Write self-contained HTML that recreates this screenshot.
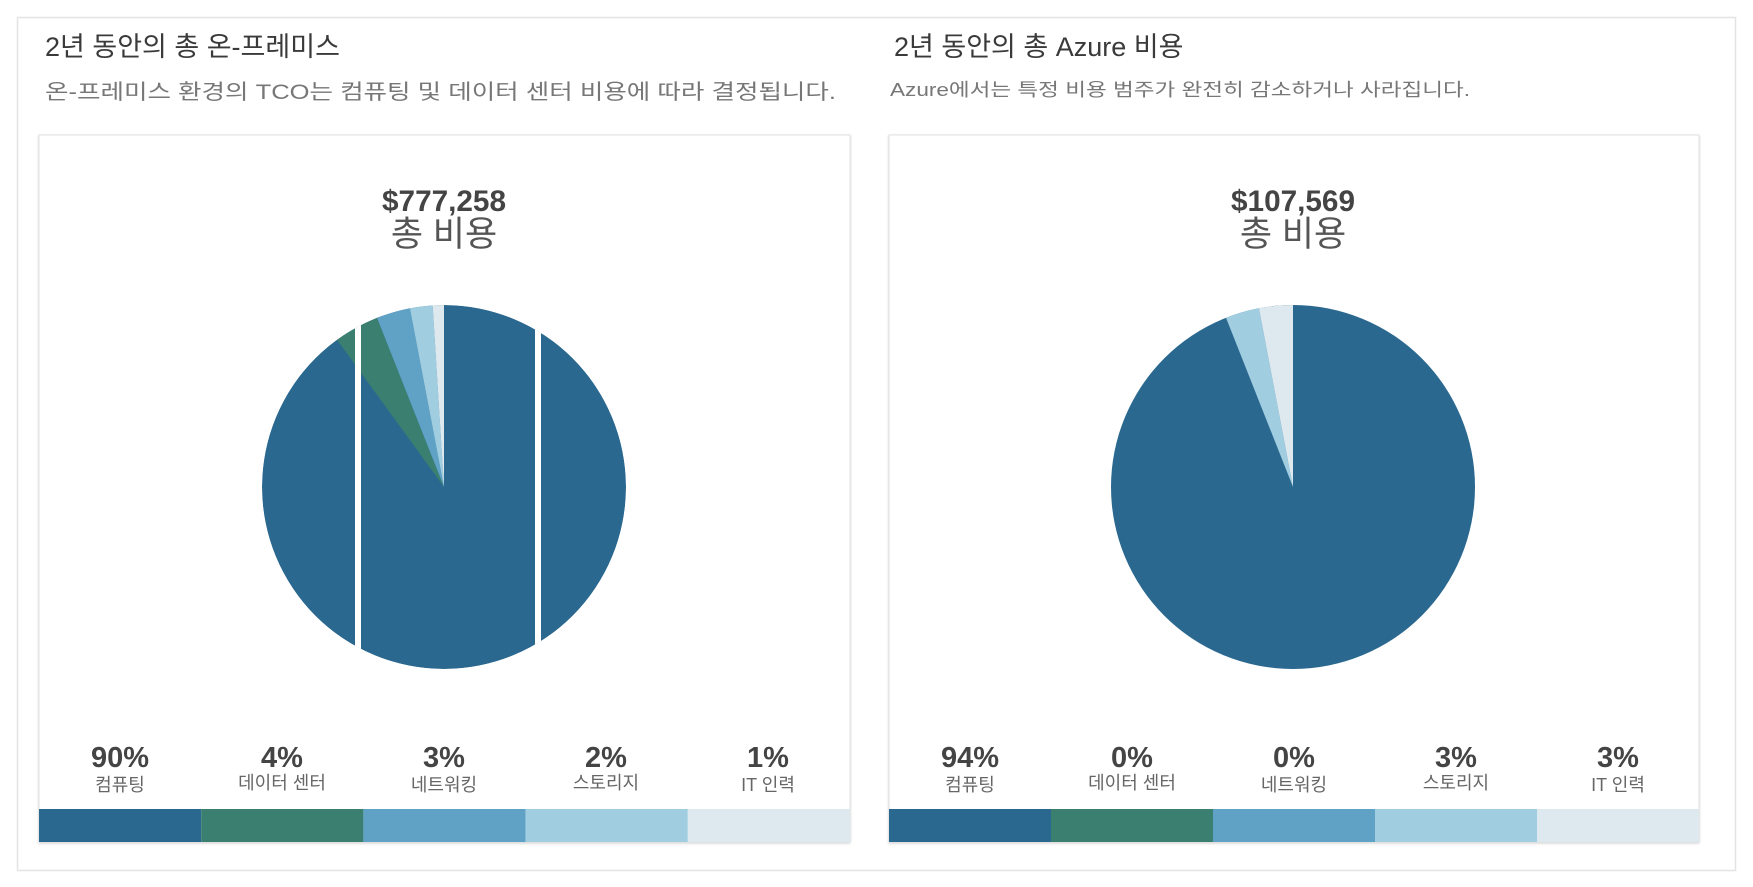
<!DOCTYPE html>
<html><head><meta charset="utf-8"><style>
html,body{margin:0;padding:0;background:#fff;}
svg{display:block;font-family:"Liberation Sans","Noto Sans CJK KR",sans-serif;}
</style></head><body>
<svg width="1753" height="887" viewBox="0 0 1753 887" xmlns="http://www.w3.org/2000/svg">
<defs>
<clipPath id="c1"><circle cx="444" cy="487" r="182"/></clipPath>
<filter id="sh" x="-5%" y="-5%" width="110%" height="110%"><feDropShadow dx="0" dy="1" stdDeviation="1.2" flood-color="#000" flood-opacity="0.18"/></filter>
</defs>
<rect x="17.5" y="17.5" width="1718" height="853" fill="#fff" stroke="#e3e3e3" stroke-width="1.5"/>
<text x="45" y="56" font-size="27" fill="#3a3a3a">2년 동안의 총 온-프레미스</text>
<text x="45" y="99" font-size="21" fill="#777" textLength="791" lengthAdjust="spacingAndGlyphs">온-프레미스 환경의 TCO는 컴퓨팅 및 데이터 센터 비용에 따라 결정됩니다.</text>
<text x="894" y="56" font-size="27" fill="#3a3a3a">2년 동안의 총 Azure 비용</text>
<text x="890" y="96" font-size="18" fill="#777" textLength="580" lengthAdjust="spacingAndGlyphs">Azure에서는 특정 비용 범주가 완전히 감소하거나 사라집니다.</text>

<!-- left card -->
<rect x="39" y="135" width="811" height="707" fill="#fff" stroke="#e2e2e2" filter="url(#sh)"/>
<text x="444" y="211" font-size="30" font-weight="bold" fill="#444" text-anchor="middle" textLength="124" lengthAdjust="spacingAndGlyphs">$777,258</text>
<text x="444" y="246" font-size="35" fill="#555" text-anchor="middle">총 비용</text>
<g clip-path="url(#c1)">
<circle cx="444" cy="487" r="182" fill="#2a6890"/>
<path d="M444 487 L337.0 339.8 A182 182 0 0 1 377.0 317.8 Z" fill="#3a7f70"/>
<path d="M444 487 L377.0 317.8 A182 182 0 0 1 409.9 308.2 Z" fill="#5fa2c6"/>
<path d="M444 487 L409.9 308.2 A182 182 0 0 1 432.6 305.4 Z" fill="#a0cde0"/>
<path d="M444 487 L432.6 305.4 A182 182 0 0 1 444 305 Z" fill="#dde9ef"/>
<rect x="535" y="300" width="6" height="380" fill="#fff"/>
<rect x="355" y="300" width="6" height="380" fill="#fff"/>
</g>
<g font-size="29" font-weight="bold" fill="#444" text-anchor="middle">
<text x="120" y="767">90%</text><text x="282" y="767">4%</text><text x="444" y="767">3%</text><text x="606" y="767">2%</text><text x="768" y="767">1%</text>
</g>
<g font-size="18" fill="#666" text-anchor="middle">
<text x="120" y="791">컴퓨팅</text><text x="282" y="789">데이터 센터</text><text x="444" y="791">네트워킹</text><text x="606" y="789">스토리지</text><text x="768" y="791">IT 인력</text>
</g>
<rect x="39" y="809" width="162.2" height="33" fill="#2a6890"/>
<rect x="201.2" y="809" width="162.2" height="33" fill="#3a7f70"/>
<rect x="363.4" y="809" width="162.2" height="33" fill="#5fa2c6"/>
<rect x="525.6" y="809" width="162.2" height="33" fill="#a0cde0"/>
<rect x="687.8" y="809" width="162.2" height="33" fill="#dde9ef"/>

<!-- right card -->
<rect x="889" y="135" width="810" height="707" fill="#fff" stroke="#e2e2e2" filter="url(#sh)"/>
<text x="1293" y="211" font-size="30" font-weight="bold" fill="#444" text-anchor="middle" textLength="124" lengthAdjust="spacingAndGlyphs">$107,569</text>
<text x="1293" y="246" font-size="35" fill="#555" text-anchor="middle">총 비용</text>
<circle cx="1293" cy="487" r="182" fill="#2a6890"/>
<path d="M1293 487 L1226.0 317.8 A182 182 0 0 1 1258.9 308.2 Z" fill="#a0cde0"/>
<path d="M1293 487 L1258.9 308.2 A182 182 0 0 1 1293 305 Z" fill="#dde9ef"/>
<g font-size="29" font-weight="bold" fill="#444" text-anchor="middle">
<text x="970" y="767">94%</text><text x="1132" y="767">0%</text><text x="1294" y="767">0%</text><text x="1456" y="767">3%</text><text x="1618" y="767">3%</text>
</g>
<g font-size="18" fill="#666" text-anchor="middle">
<text x="970" y="791">컴퓨팅</text><text x="1132" y="789">데이터 센터</text><text x="1294" y="791">네트워킹</text><text x="1456" y="789">스토리지</text><text x="1618" y="791">IT 인력</text>
</g>
<rect x="889" y="809" width="162" height="33" fill="#2a6890"/>
<rect x="1051" y="809" width="162" height="33" fill="#3a7f70"/>
<rect x="1213" y="809" width="162" height="33" fill="#5fa2c6"/>
<rect x="1375" y="809" width="162" height="33" fill="#a0cde0"/>
<rect x="1537" y="809" width="162" height="33" fill="#dde9ef"/>
</svg>
</body></html>
